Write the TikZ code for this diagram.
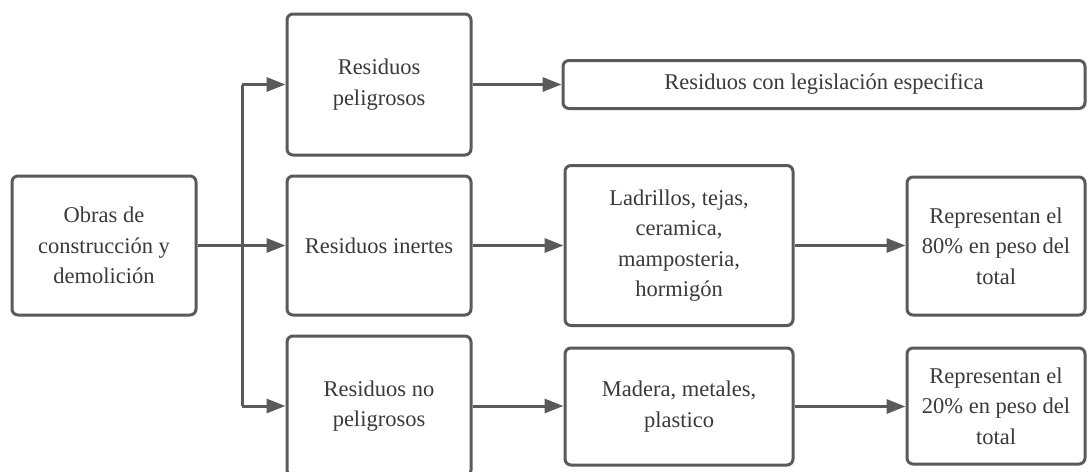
\documentclass[tikz,border=0pt]{standalone}
\usepackage{fontspec}
\setmainfont{Liberation Serif}
\usetikzlibrary{arrows.meta}
\definecolor{ln}{HTML}{5A5A5A}
\definecolor{tx}{HTML}{3A3A3A}
\begin{document}
\begin{tikzpicture}[x=1pt,y=-1pt,
  box/.style={draw=ln, line width=3pt, rounded corners=6pt, align=center, text=tx,
    font=\fontsize{22.5}{30.5}\selectfont, inner sep=0pt, fill=white},
  conn/.style={draw=ln, line width=3pt},
  arr/.style={conn, -{Triangle[length=19pt,width=14pt]}}]
\useasboundingbox (0,0) rectangle (1089,471);
\fill[white] (0,0) rectangle (1089,471);
\clip (0,0) rectangle (1089,471);
\node[box, minimum width=184pt, minimum height=139pt] (obras) at (104,245.5) {Obras de\\construcción y\\demolición};
\node[box, minimum width=184pt, minimum height=141pt] (pel) at (379,84.5) {Residuos\\peligrosos};
\node[box, minimum width=184pt, minimum height=139pt] (ine) at (379,245.5) {Residuos inertes};
\node[box, minimum width=184pt, minimum height=140pt] (nop) at (379,406) {Residuos no\\peligrosos};
\node[box, minimum width=522pt, minimum height=48pt] (leg) at (824,84.5) {Residuos con legislación especifica};
\node[box, minimum width=228pt, minimum height=160pt] (lad) at (679,245.5) {Ladrillos, tejas,\\ceramica,\\mamposteria,\\hormigón};
\node[box, minimum width=178pt, minimum height=138pt] (p80) at (996,246) {Representan el\\80\% en peso del\\total};
\node[box, minimum width=228pt, minimum height=117pt] (mad) at (679,406.5) {Madera, metales,\\plastico};
\node[box, minimum width=178pt, minimum height=116pt] (p20) at (996,406) {Representan el\\20\% en peso del\\total};
\coordinate (j1) at (242,84.5);
\coordinate (j2) at (242,245.5);
\coordinate (j3) at (242,406);
\draw[conn] (obras.east) -- (j2);
\draw[conn] (j1) -- (j3);
\draw[arr] (j1) -- (pel.west);
\draw[arr] (j2) -- (ine.west);
\draw[arr] (j3) -- (nop.west);
\draw[arr] (pel.east) -- (pel.east -| leg.west);
\draw[arr] (ine.east) -- (ine.east -| lad.west);
\draw[arr] (lad.east) -- (lad.east -| p80.west);
\draw[arr] (nop.east) -- (nop.east -| mad.west);
\draw[arr] (mad.east) -- (mad.east -| p20.west);
\end{tikzpicture}
\end{document}
